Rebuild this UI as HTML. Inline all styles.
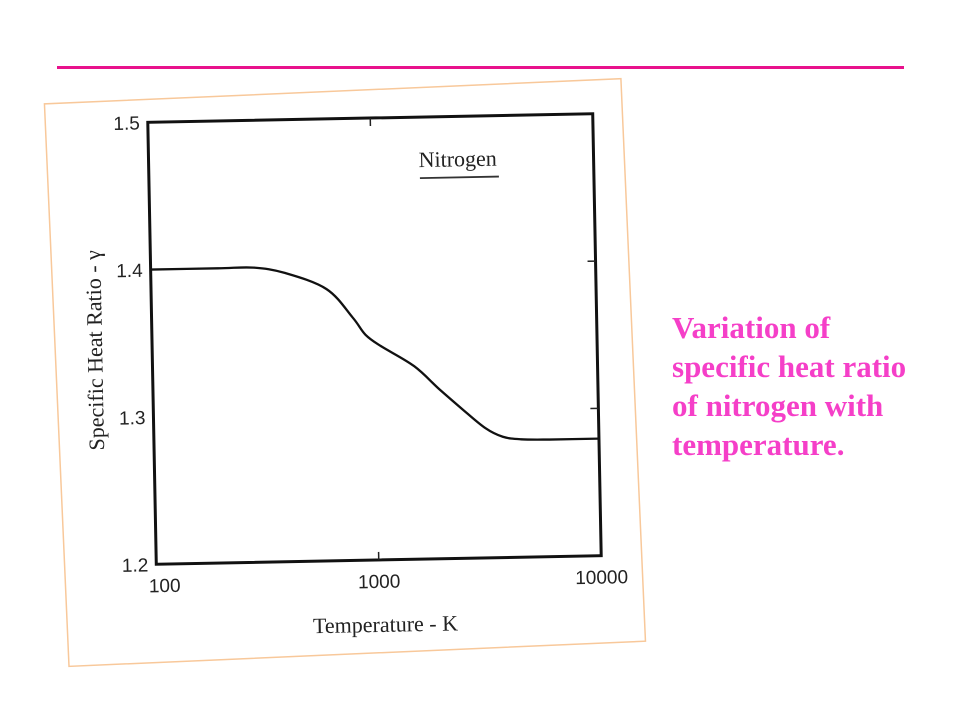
<!DOCTYPE html>
<html><head><meta charset="utf-8"><style>
body{margin:0;background:#fff;}
#slide{position:relative;width:960px;height:720px;overflow:hidden;background:#fff;}
#rule{position:absolute;left:57px;top:66px;width:847px;height:3px;background:#e8118c;}
#caption{position:absolute;left:672px;top:308px;font-family:"Liberation Serif",serif;font-weight:bold;font-size:31px;line-height:39px;color:#f53fc8;margin:0;white-space:nowrap;}
</style></head><body>
<div id="slide">
<div id="rule"></div>
<svg width="960" height="720" style="position:absolute;left:0;top:0">
  <g transform="rotate(-2.5 346 385)">
    <rect x="57" y="91" width="577" height="563" fill="#fff" stroke="#f8c89a" stroke-width="1.5"/>
  </g>
  <g id="plot" transform="rotate(-1.1 374 339)"></g>
</svg>
<p id="caption">Variation of<br>specific heat ratio<br>of nitrogen with<br>temperature.</p>
</div>
<script>
const temps=[100,200,290,400,615,800,912,1070,1500,1940,2500,3100,3700,4460,6000,10000];
const gammaValues=[1.4,1.4,1.4,1.396,1.3845,1.365,1.353,1.345,1.331,1.315,1.300,1.288,1.282,1.280,1.2795,1.2795];
const yTicks=[1.2,1.3,1.4,1.5];
const xTicks=[100,1000,10000];
const X0=152,X1=597,Y0=118,Y1=560;
const xs=v=>X0+(Math.log10(v)-2)/2*(X1-X0);
const ys=v=>Y1-(v-1.2)/0.3*(Y1-Y0);
const g=document.getElementById('plot');
const NS='http://www.w3.org/2000/svg';
function mk(t,a){const e=document.createElementNS(NS,t);for(const k in a)e.setAttribute(k,a[k]);g.appendChild(e);return e;}
const box=mk('rect',{x:X0,y:Y0,width:X1-X0,height:Y1-Y0,fill:'none',stroke:'#111','stroke-width':3});


yTicks.forEach(v=>{
  const t=mk('text',{x:X0-8,y:ys(v)+7,'text-anchor':'end','font-family':'Liberation Sans,sans-serif','font-size':19,fill:'#222'});
  t.textContent=v.toFixed(1);
  
  
  if(v>1.2&&v<1.5){
    const k=mk('line',{x1:X1-8,x2:X1,y1:ys(v),y2:ys(v),stroke:'#222','stroke-width':1.5});
    
    
  }
});
xTicks.forEach(v=>{
  const t=mk('text',{x:xs(v)+(v==100?8:0),y:Y1+28,'text-anchor':'middle','font-family':'Liberation Sans,sans-serif','font-size':19,fill:'#222'});
  t.textContent=v;
  
  
  if(v==1000){
    const k1=mk('line',{x1:xs(v),x2:xs(v),y1:Y1-8,y2:Y1,stroke:'#222','stroke-width':1.5});
    
    
    const k2=mk('line',{x1:xs(v),x2:xs(v),y1:Y0,y2:Y0+8,stroke:'#222','stroke-width':1.5});
    
    
  }
});
// smooth curve (Catmull-Rom)
const P=temps.map((t,i)=>[xs(t),ys(gammaValues[i])]);
let d='M'+P[0][0].toFixed(1)+' '+P[0][1].toFixed(1);
for(let i=0;i<P.length-1;i++){
  const p0=P[Math.max(0,i-1)],p1=P[i],p2=P[i+1],p3=P[Math.min(P.length-1,i+2)];
  const c1=[p1[0]+(p2[0]-p0[0])/6,p1[1]+(p2[1]-p0[1])/6];
  const c2=[p2[0]-(p3[0]-p1[0])/6,p2[1]-(p3[1]-p1[1])/6];
  d+=' C'+c1.map(n=>n.toFixed(1)).join(' ')+' '+c2.map(n=>n.toFixed(1)).join(' ')+' '+p2.map(n=>n.toFixed(1)).join(' ');
}
const path=mk('path',{d:d,fill:'none',stroke:'#111','stroke-width':2.3,'stroke-linejoin':'round'});


const lg=mk('text',{x:422,y:168,'font-family':'Liberation Serif,serif','font-size':22,fill:'#222'});
lg.textContent='Nitrogen';


const ll=mk('line',{x1:423,x2:502,y1:179,y2:179,stroke:'#333','stroke-width':1.8});


const xt=mk('text',{x:380,y:Y1+72,'text-anchor':'middle','font-family':'Liberation Serif,serif','font-size':22,fill:'#222'});
xt.textContent='Temperature - K';


const yt=mk('text',{x:0,y:0,'text-anchor':'middle','font-family':'Liberation Serif,serif','font-size':22,fill:'#222',transform:'translate(102 345) rotate(-90)'});
yt.textContent='Specific Heat Ratio - γ';


</script>
</body></html>
